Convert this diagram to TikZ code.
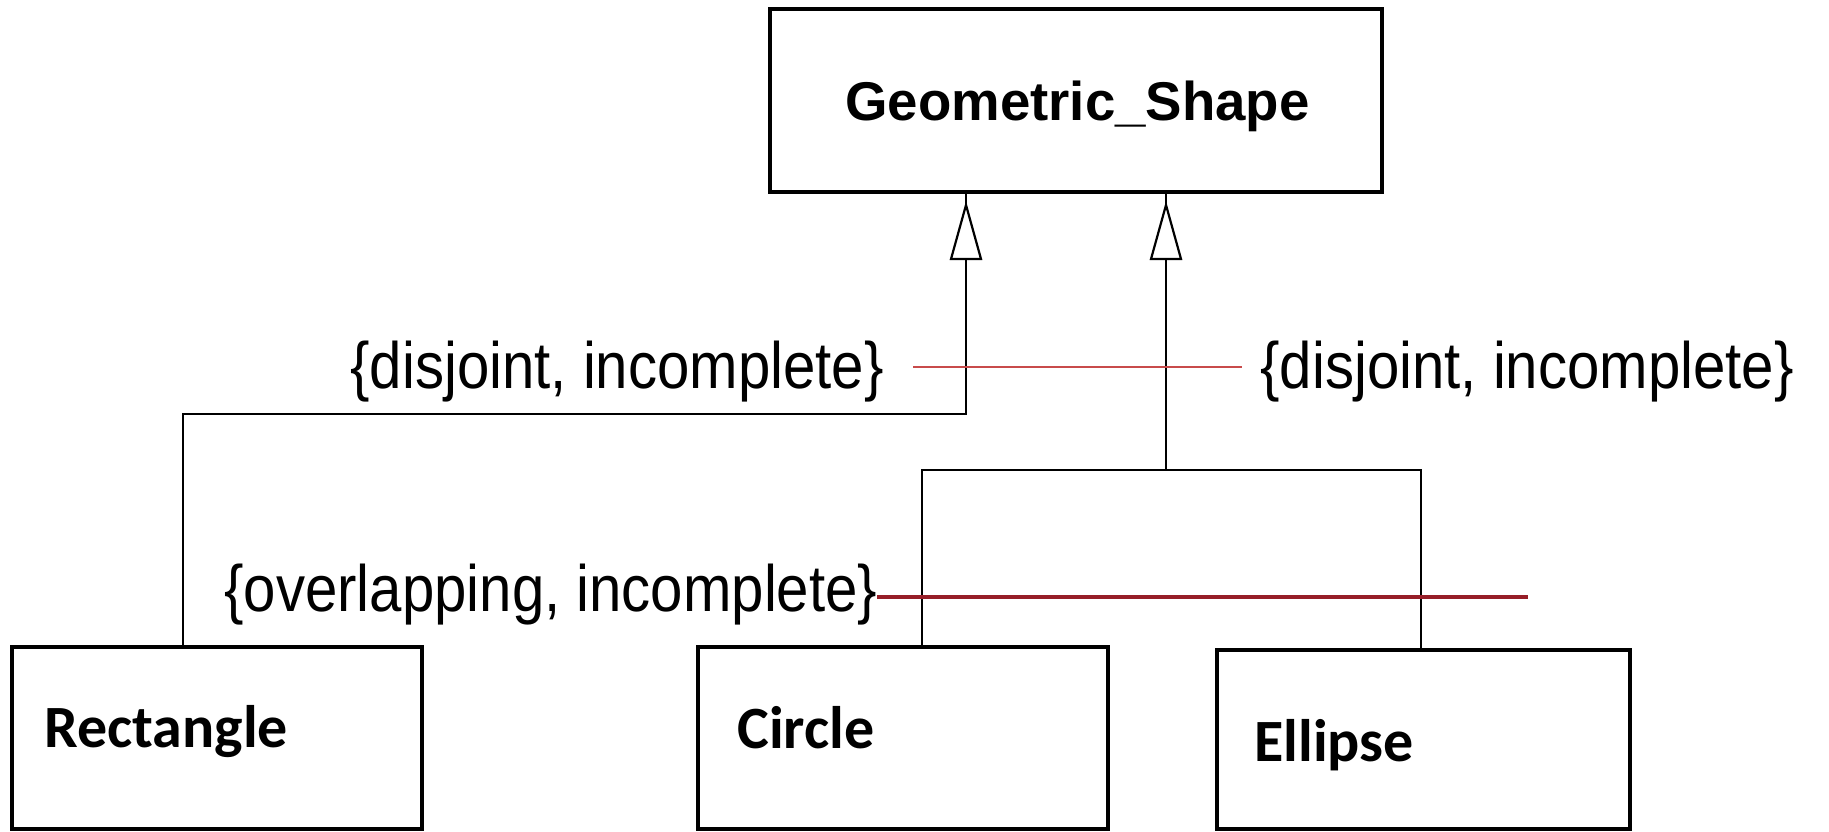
\documentclass[tikz,border=0pt]{standalone}
\usepackage{fontspec}
\newfontfamily\arialfont{Liberation Sans}
\newfontfamily\calfont{Carlito}
\definecolor{lightred}{RGB}{200,75,75}
\definecolor{darkred}{RGB}{150,30,40}
\newcommand{\tallcons}[1]{\scalebox{1.02}[1.15]{#1}}
\begin{document}
\begin{tikzpicture}[x=0.5pt,y=-0.5pt,
  classbox/.style={draw,line width=1.6pt,inner sep=0pt,fill=white},
  conn/.style={draw,line width=1pt},
  gentip/.style={draw,line width=1.1pt,fill=white},
  constr/.style={inner sep=0pt,anchor=base west,font=\arialfont\fontsize{28.5}{30}\selectfont},
  boldname/.style={inner sep=0pt,anchor=base west,font=\calfont\bfseries\fontsize{30}{32}\selectfont},
  thinred/.style={draw=lightred,line width=1pt},
  thickred/.style={draw=darkred,line width=2pt}]
\useasboundingbox (0,0) rectangle (1829,831);
% class boxes
\node[classbox,minimum width=306pt,minimum height=91.5pt] (gs) at (1076,100.5) {};
\node[classbox,minimum width=205pt,minimum height=91pt] (rect) at (217,738) {};
\node[classbox,minimum width=205pt,minimum height=91pt] (circ) at (903,738) {};
\node[classbox,minimum width=206.5pt,minimum height=89.5pt] (ell) at (1423.5,739.5) {};
% names
\node[inner sep=0pt,anchor=base west,font=\arialfont\bfseries\fontsize{27.3}{29}\selectfont] (gsname) at (845,120) {Geometric\_Shape};
\node[boldname] (rectname) at (44,747) {Rectangle};
\node[boldname] (circname) at (737,748) {Circle};
\node[boldname] (ellname) at (1254,761) {Ellipse};
% attachment coordinates
\coordinate (la) at (966,192);
\coordinate (ra) at (1166,192);
\coordinate (lb) at (966,414);
\coordinate (rj) at (1166,470);
\coordinate (rectt) at (183,647);
\coordinate (circt) at (922,647);
\coordinate (ellt) at (1421,650);
% connectors
\draw[conn] (la) -- (lb) -| (rectt);
\draw[conn] (ra) -- (rj);
\draw[conn] (circt) |- (rj) -| (ellt);
% generalization tips
\draw[gentip] (966,205) -- (981,259) -- (951,259) -- cycle;
\draw[gentip] (1166,205) -- (1181,259) -- (1151,259) -- cycle;
% constraint labels
\node[constr] (dj1) at (350,388) {\tallcons{\{disjoint, incomplete\}}};
\node[constr] (dj2) at (1260,388) {\tallcons{\{disjoint, incomplete\}}};
\node[constr] (ov) at (224,611) {\tallcons{\{overlapping, incomplete\}}};
% constraint lines
\coordinate (d1) at (913,367);
\coordinate (d2) at (1242,367);
\coordinate (o1) at (877,597);
\coordinate (o2) at (1528,597);
\draw[thinred] (d1) -- (d2);
\draw[thickred] (o1) -- (o2);
\end{tikzpicture}
\end{document}
